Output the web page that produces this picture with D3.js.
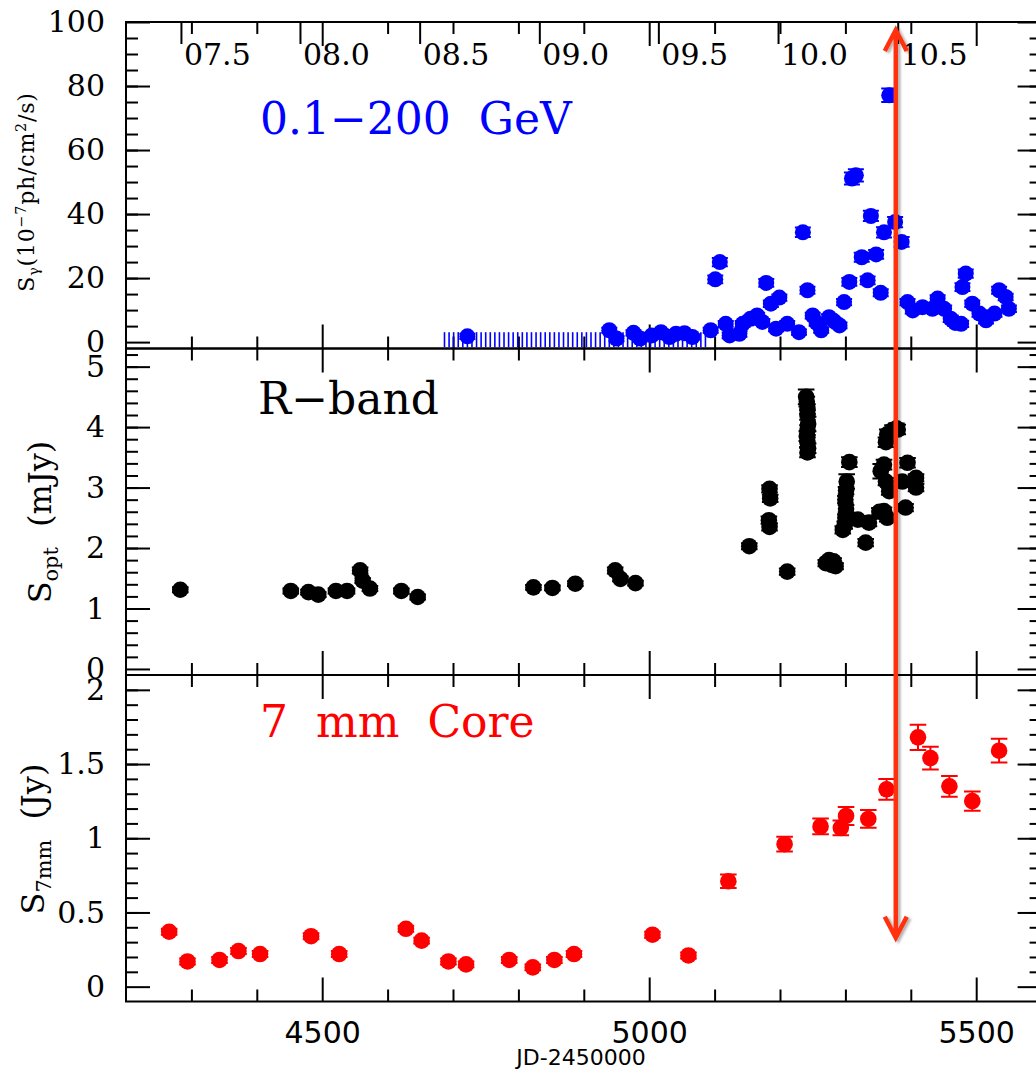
<!DOCTYPE html>
<html>
<head>
<meta charset="utf-8">
<script src="https://cdn.jsdelivr.net/npm/d3@7"></script>
<style>
  html, body { margin: 0; padding: 0; background: #fff; }
  svg { display: block; }
</style>
</head>
<body>
<svg id="chart" width="1036" height="1073"></svg>
<script>
// ---- data (JD-2450000) ----
// Fermi 0.1-200 GeV
const gammaJD = [4722, 4939, 4950, 4976, 4986, 5004, 5018, 5031, 5041, 5054, 5066, 5094,
  5101, 5108, 5117, 5123, 5138, 5143, 5155, 5165, 5173, 5179, 5186, 5194, 5199, 5211, 5229,
  5235, 5242, 5250, 5256, 5263, 5275, 5283, 5291, 5298, 5306, 5310, 5316, 5325, 5334, 5339,
  5347, 5354, 5359, 5367, 5376, 5386, 5395, 5403, 5418, 5433, 5441, 5451, 5461, 5468, 5477,
  5479, 5484, 5494, 5505, 5515, 5528, 5535, 5545, 5550];
const gammaFlux = [1.8, 3.7, 1.1, 2.9, 1.1, 2.1, 3.1, 1.6, 2.6, 2.8, 1.6, 3.7,
  19.6, 25.0, 5.7, 2.1, 2.6, 5.7, 7.3, 8.3, 6.3, 18.5, 12.0, 4.2, 13.9, 5.7, 3.1,
  34.3, 16.2, 8.3, 6.0, 3.7, 7.8, 6.5, 5.2, 12.5, 18.8, 51.1, 52.1, 26.5, 19.3, 39.4,
  27.4, 15.4, 34.3, 77.1, 37.5, 31.3, 12.5, 9.9, 10.9, 10.4, 13.6, 10.4, 7.3, 6.0, 5.7,
  17.2, 21.4, 12.0, 8.9, 6.8, 8.9, 16.2, 14.1, 10.4];
const gammaErr = [0.8, 0.8, 0.8, 0.8, 0.8, 0.8, 0.8, 0.8, 0.8, 0.8, 0.8, 0.8,
  1.2, 1.3, 0.9, 0.9, 0.9, 0.9, 0.9, 0.9, 0.9, 1.2, 1.0, 0.8, 1.0, 0.9, 0.8,
  1.5, 1.1, 0.9, 0.9, 0.8, 0.9, 0.9, 0.9, 1.0, 1.2, 1.9, 1.9, 1.4, 1.2, 1.6,
  1.4, 1.1, 1.6, 2.1, 1.6, 1.5, 1.0, 1.0, 1.0, 1.0, 1.0, 1.0, 1.0, 1.0, 1.0,
  1.2, 1.3, 1.0, 1.0, 1.0, 1.0, 1.1, 1.0, 1.0];
// weekly bins drawn only as bars
const limitJD = [4687, 4694, 4701, 4708, 4715, 4722, 4729, 4736, 4743, 4750, 4757, 4764,
  4771, 4778, 4785, 4792, 4799, 4806, 4813, 4820, 4827, 4834, 4841, 4848, 4855, 4862,
  4869, 4876, 4883, 4890, 4897, 4904, 4911, 4918, 4925, 4932, 4939, 4946, 4953, 4960,
  4967, 4974, 4981, 4988, 4995, 5002, 5009, 5016, 5023, 5030, 5037, 5044, 5051, 5058,
  5065, 5072, 5079, 5086];
const limitRange = [-1.6, 3.1];

// R-band
const optJD = [4283, 4452, 4479, 4494, 4521, 4538, 4558, 4562, 4573, 4621, 4646, 4823, 4852,
  4887, 4948, 4956, 4979,
  5153, 5183, 5184, 5184, 5185, 5211,
  5240, 5241, 5242, 5242, 5243, 5242, 5241, 5242, 5243, 5242,
  5270, 5275, 5279, 5282, 5285,
  5296, 5299, 5300, 5301, 5300, 5301, 5302, 5306,
  5319, 5331, 5336,
  5352, 5354, 5359, 5359, 5362, 5362, 5364, 5364, 5366, 5367, 5372, 5378, 5380, 5387,
  5392, 5395, 5408, 5408];
const optFlux = [1.31, 1.29, 1.27, 1.23, 1.29, 1.29, 1.63, 1.46, 1.33, 1.29, 1.19, 1.35, 1.34,
  1.41, 1.63, 1.49, 1.42,
  2.03, 2.46, 2.35, 2.98, 2.82, 1.61,
  4.50, 4.42, 4.30, 4.20, 4.05, 3.95, 3.85, 3.75, 3.65, 3.58,
  1.75, 1.80, 1.72, 1.78, 1.70,
  2.30, 2.38, 2.50, 2.65, 2.80, 2.95, 3.10, 3.42,
  2.47, 2.09, 2.42,
  2.60, 3.27, 3.38, 2.61, 3.10, 3.75, 2.50, 3.88, 3.85, 2.94, 3.95, 3.98, 3.96, 3.10,
  2.67, 3.41, 3.16, 3.00];
const optErr = [0.04, 0.04, 0.04, 0.04, 0.04, 0.04, 0.05, 0.04, 0.04, 0.04, 0.04, 0.04, 0.04,
  0.04, 0.05, 0.04, 0.04,
  0.05, 0.06, 0.06, 0.06, 0.06, 0.05,
  0.12, 0.08, 0.08, 0.08, 0.12, 0.08, 0.08, 0.08, 0.08, 0.08,
  0.05, 0.05, 0.05, 0.05, 0.05,
  0.06, 0.06, 0.06, 0.06, 0.06, 0.06, 0.12, 0.08,
  0.06, 0.06, 0.06,
  0.06, 0.12, 0.08, 0.06, 0.06, 0.08, 0.06, 0.08, 0.08, 0.06, 0.08, 0.08, 0.08, 0.06,
  0.06, 0.08, 0.06, 0.06];

// 7 mm VLBA core
const radioJD = [4266, 4294, 4343, 4372, 4405, 4483, 4526, 4628, 4652, 4693, 4720, 4786,
  4822, 4855, 4885, 5005, 5060, 5121, 5207, 5262, 5293, 5301, 5335, 5363, 5411, 5430,
  5459, 5494, 5535];
const radioFlux = [0.37, 0.17, 0.18, 0.24, 0.22, 0.34, 0.22, 0.39, 0.31, 0.17, 0.15, 0.18,
  0.13, 0.18, 0.22, 0.35, 0.21, 0.71, 0.96, 1.08, 1.07, 1.15, 1.13, 1.33, 1.68, 1.54,
  1.35, 1.25, 1.59];
const radioErr = [0.02, 0.02, 0.02, 0.02, 0.02, 0.02, 0.02, 0.02, 0.02, 0.02, 0.02, 0.02,
  0.02, 0.02, 0.02, 0.02, 0.02, 0.045, 0.05, 0.053, 0.05, 0.06, 0.06, 0.07, 0.085, 0.077,
  0.07, 0.065, 0.08];

// axes
const yearJD = [4284, 4466, 4649, 4832, 5014, 5197, 5380];
const yearLabels = ["07.5", "08.0", "08.5", "09.0", "09.5", "10.0", "10.5"];
const jdMajor = [4500, 5000, 5500];
const jdMinor = [4300, 4400, 4600, 4700, 4800, 4900, 5100, 5200, 5300, 5400, 5600];
const gammaTicks = [0, 20, 40, 60, 80, 100];
const optTicks = [0, 1, 2, 3, 4, 5];
const radioTicks = [0, 0.5, 1, 1.5, 2];
const arrowJD = 5377, arrowTopGamma = 97.5, arrowBottomRadio = 0.33;

// ---- layout ----
const svg = d3.select("#chart");
const left = 126, right = 1041.6;
const panelH = 326.5;
const tops = [22, 348.5, 675];
const serif = "DejaVu Serif";
const blue = "#0000ff", red = "#ff0000";

const x = d3.scaleLinear().domain([4200, 5600]).range([left, right]);

const panels = [
  { y: d3.scaleLinear().domain([-2, 100]).range([tops[0] + panelH, tops[0]]),
    major: gammaTicks, minor: d3.range(5, 100, 5) },
  { y: d3.scaleLinear().domain([-0.1, 5.3]).range([tops[1] + panelH, tops[1]]),
    major: optTicks, minor: d3.range(0.2, 5.3, 0.2) },
  { y: d3.scaleLinear().domain([-0.1, 2.1]).range([tops[2] + panelH, tops[2]]),
    major: radioTicks, minor: d3.range(0.1, 2.1, 0.1) }
];

function addAxis(gen, transform, values, size, fmt, pad) {
  const g = svg.append("g").attr("transform", transform)
    .call(gen.tickValues(values).tickSize(size).tickPadding(pad || 3).tickFormat(fmt || (() => "")));
  g.select(".domain").remove();
  g.selectAll("line").attr("stroke", "#000").attr("stroke-width", 2);
  g.attr("font-family", serif).attr("font-size", 30);
  g.selectAll("text").attr("fill", "#000");
  return g;
}

panels.forEach((p, i) => {
  const top = tops[i], bottom = top + panelH;
  // left / right
  addAxis(d3.axisLeft(p.y), `translate(${left},0)`, p.major, -24, d => String(d), 21);
  addAxis(d3.axisLeft(p.y), `translate(${left},0)`, p.minor, -12);
  addAxis(d3.axisRight(p.y), `translate(${right},0)`, p.major, -24);
  addAxis(d3.axisRight(p.y), `translate(${right},0)`, p.minor, -12);
  // top / bottom in JD
  addAxis(d3.axisTop(x), `translate(0,${top})`, jdMajor, -24);
  addAxis(d3.axisTop(x), `translate(0,${top})`, jdMinor, -12);
  addAxis(d3.axisBottom(x), `translate(0,${bottom})`, jdMinor, -12);
  const gb = addAxis(d3.axisBottom(x), `translate(0,${bottom})`, jdMajor, -24,
    i === 2 ? (d => String(d)) : null, 20);
  if (i === 2) gb.attr("font-family", "DejaVu Sans").attr("font-size", 30);

  svg.append("rect")
    .attr("x", left).attr("y", top)
    .attr("width", right - left).attr("height", panelH)
    .attr("fill", "none").attr("stroke", "#000").attr("stroke-width", 2);
});

// calendar-year ticks on the top edge
addAxis(d3.axisTop(x), `translate(0,${tops[0]})`, yearJD, -22);
svg.append("g").selectAll("text")
  .data(yearJD)
  .join("text")
  .attr("x", d => x(d) + 3)
  .attr("y", 65)
  .attr("font-family", serif)
  .attr("font-size", 30)
  .text((d, i) => yearLabels[i]);

// ---- data marks ----
function drawSeries(yScale, jd, flux, err, color, r) {
  const rows = jd.map((d, i) => ({ jd: d, f: flux[i], e: err[i] }));
  const g = svg.append("g").attr("stroke", color).attr("fill", color).attr("stroke-width", 2);
  g.selectAll("path.err")
    .data(rows)
    .join("path")
    .attr("class", "err")
    .attr("fill", "none")
    .attr("d", d => {
      const cx = x(d.jd), y1 = yScale(d.f + d.e), y0 = yScale(d.f - d.e);
      return `M${cx},${y0}V${y1}M${cx - r},${y1}H${cx + r}M${cx - r},${y0}H${cx + r}`;
    });
  g.selectAll("circle")
    .data(rows)
    .join("circle")
    .attr("stroke", "none")
    .attr("cx", d => x(d.jd))
    .attr("cy", d => yScale(d.f))
    .attr("r", r);
}

// weekly bars in the gamma panel
svg.append("g").selectAll("line")
  .data(limitJD)
  .join("line")
  .attr("x1", d => x(d)).attr("x2", d => x(d))
  .attr("y1", panels[0].y(limitRange[0]))
  .attr("y2", panels[0].y(limitRange[1]))
  .attr("stroke", blue).attr("stroke-width", 1.6);

drawSeries(panels[0].y, gammaJD, gammaFlux, gammaErr, blue, 8);
drawSeries(panels[1].y, optJD, optFlux, optErr, "#000", 8.3);
drawSeries(panels[2].y, radioJD, radioFlux, radioErr, red, 8.3);

// ---- panel labels ----
const big = [
  { t: "0.1\u2212200\u00a0\u00a0GeV", x: 260, y: 134, c: blue },
  { t: "R\u2212band", x: 258, y: 414, c: "#000" },
  { t: "7\u00a0\u00a0mm\u00a0\u00a0Core", x: 260, y: 737, c: red }
];
svg.append("g").selectAll("text")
  .data(big)
  .join("text")
  .attr("x", d => d.x).attr("y", d => d.y)
  .attr("font-family", serif).attr("font-size", 44)
  .attr("fill", d => d.c)
  .text(d => d.t);

// y-axis titles (rotated)
function yTitle(cx, cy, size, parts) {
  const t = svg.append("text")
    .attr("transform", `translate(${cx},${cy}) rotate(-90)`)
    .attr("text-anchor", "middle")
    .attr("font-family", serif)
    .attr("font-size", size);
  parts.forEach(p => {
    t.append("tspan")
      .attr("dy", p.dy || 0)
      .attr("font-size", p.s ? size * p.s : null)
      .text(p.t);
  });
  return t;
}
yTitle(34, 192, 22, [
  { t: "S" }, { t: "\u03b3", s: 0.65, dy: 5 }, { t: "(10", dy: -5 },
  { t: "\u22127", s: 0.65, dy: -8 }, { t: "ph/cm", dy: 8 },
  { t: "2", s: 0.65, dy: -8 }, { t: "/s)", dy: 8 }
]).attr("letter-spacing", 0.8);
yTitle(51, 522, 32, [
  { t: "S" }, { t: "opt", s: 0.65, dy: 7 }, { t: "\u00a0\u00a0(mJy)", dy: -7 }
]);
yTitle(44, 839, 32, [
  { t: "S" }, { t: "7mm", s: 0.65, dy: 7 }, { t: "\u00a0\u00a0(Jy)", dy: -7 }
]);

svg.append("text")
  .attr("x", 581).attr("y", 1065)
  .attr("text-anchor", "middle")
  .attr("font-family", "DejaVu Sans")
  .attr("font-size", 22)
  .text("JD-2450000");

// ---- red double arrow ----
const defs = svg.append("defs");
defs.append("filter").attr("id", "shadow")
  .attr("x", "-50%").attr("y", "-5%").attr("width", "200%").attr("height", "110%")
  .append("feDropShadow")
  .attr("dx", 2.5).attr("dy", 1.5).attr("stdDeviation", 1.2)
  .attr("flood-color", "#000").attr("flood-opacity", 0.3);

const ax = x(arrowJD);
const aTop = panels[0].y(arrowTopGamma);
const aBot = panels[2].y(arrowBottomRadio);
const head = 11, headLen = 21;
svg.append("path")
  .attr("d", `M${ax},${aTop}V${aBot}` +
    `M${ax - head},${aTop + headLen}L${ax},${aTop}L${ax + head},${aTop + headLen}` +
    `M${ax - head},${aBot - headLen}L${ax},${aBot}L${ax + head},${aBot - headLen}`)
  .attr("fill", "none")
  .attr("stroke", "#ff3010")
  .attr("stroke-width", 4.5)
  .attr("stroke-linejoin", "miter")
  .attr("filter", "url(#shadow)");
</script>
</body>
</html>
